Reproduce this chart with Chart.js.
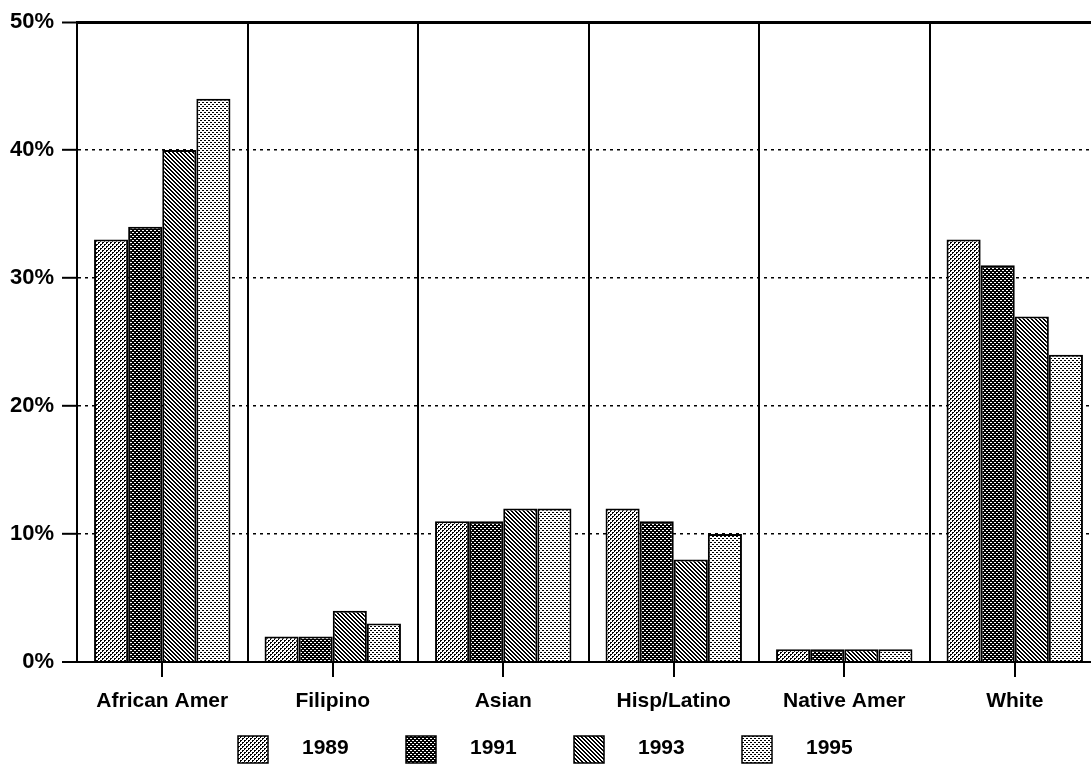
<!DOCTYPE html>
<html>
<head>
<meta charset="utf-8">
<script src="https://cdn.jsdelivr.net/npm/chart.js@4/dist/chart.umd.min.js"></script>
<style>
  html, body { margin: 0; padding: 0; background: #fff; overflow: hidden; }
  #wrap { width: 1100px; height: 767px; }
</style>
</head>
<body>
<div id="wrap"><canvas id="chart" width="1100" height="767"></canvas></div>
<script>
// Share of students by ethnic group, four survey years
const categories = ['African Amer', 'Filipino', 'Asian', 'Hisp/Latino', 'Native Amer', 'White'];
const years = ['1989', '1991', '1993', '1995'];
const values1989 = [33, 2, 11, 12, 1, 33];
const values1991 = [34, 2, 11, 11, 1, 31];
const values1993 = [40, 4, 12, 8, 1, 27];
const values1995 = [44, 3, 12, 10, 1, 24];
const yMin = 0, yMax = 50, yStep = 10;

// Black-and-white screen tiles used as bar fills
function makePattern(rows) {
  const c = document.createElement('canvas');
  c.width = rows[0].length;
  c.height = rows.length;
  const g = c.getContext('2d');
  g.fillStyle = '#fff';
  g.fillRect(0, 0, c.width, c.height);
  g.fillStyle = '#000';
  rows.forEach((r, y) => [...r].forEach((ch, x) => { if (ch === 'X') g.fillRect(x, y, 1, 1); }));
  return g.createPattern(c, 'repeat');
}
const fills = [
  makePattern(['XX..', 'X...', '..XX', '..X.']),   // light stipple
  makePattern(['..XX', 'XXXX', 'XX..', 'XXXX']),   // dark stipple
  makePattern(['XX..', '.XX.', '..XX', 'X..X']),   // diagonal hatch
  makePattern(['XX..', '....', '..XX', '....'])    // sparse stipple
];
const seriesValues = [values1989, values1991, values1993, values1995];

const FONT = "'Liberation Sans', Arial, Helvetica, sans-serif";

// Center tick marks under each category and the legend row
const extras = {
  id: 'extras',
  afterDraw(chart, args, opts) {
    const { ctx, chartArea } = chart;
    const xs = chart.scales.x;
    ctx.save();
    ctx.strokeStyle = '#000';
    ctx.lineWidth = 2;
    categories.forEach((c, i) => {
      const x = Math.round(xs.getPixelForValue(i));
      ctx.beginPath();
      ctx.moveTo(x, chartArea.bottom);
      ctx.lineTo(x, chartArea.bottom + 15);
      ctx.stroke();
    });
    // legend
    ctx.font = 'bold 21px ' + FONT;
    ctx.textBaseline = 'middle';
    ctx.textAlign = 'left';
    chart.data.datasets.forEach((ds, i) => {
      const bx = opts.x0 + i * opts.pitch;
      ctx.fillStyle = ds.backgroundColor;
      ctx.fillRect(bx, opts.top, opts.boxW, opts.boxH);
      ctx.lineWidth = 1.5;
      ctx.strokeStyle = '#000';
      ctx.strokeRect(bx, opts.top, opts.boxW, opts.boxH);
      ctx.fillStyle = '#000';
      ctx.fillText(ds.label, bx + opts.textOffset, opts.top + opts.boxH / 2 - 1);
    });
    ctx.restore();
  }
};

new Chart(document.getElementById('chart'), {
  type: 'bar',
  data: {
    labels: categories,
    datasets: years.map((y, i) => ({
      label: y,
      data: seriesValues[i],
      backgroundColor: fills[i],
      borderColor: '#000',
      borderWidth: 2,
      borderSkipped: 'bottom',
      categoryPercentage: 0.8,
      barPercentage: 1.0
    }))
  },
  options: {
    responsive: false,
    devicePixelRatio: 1,
    animation: false,
    layout: { padding: { top: 22, right: 0, bottom: 0, left: 0 } },
    plugins: {
      legend: { display: false },
      tooltip: { enabled: false },
      extras: { x0: 238, pitch: 168, top: 736, boxW: 30, boxH: 27, textOffset: 64 }
    },
    scales: {
      x: {
        afterFit(scale) { scale.height = 105; },
        grid: {
          offset: true,
          drawTicks: false,
          color: '#000',
          lineWidth: 2
        },
        border: { display: true, color: '#000', width: 2 },
        ticks: {
          padding: 27,
          color: '#000',
          font: { family: FONT, size: 21, weight: 'bold' }
        }
      },
      y: {
        min: yMin,
        max: yMax,
        afterFit(scale) { scale.width = 77; },
        ticks: {
          stepSize: yStep,
          padding: 8,
          color: '#000',
          font: { family: FONT, size: 22, weight: 'bold' },
          callback: (v) => v + '%'
        },
        grid: {
          color: '#000',
          lineWidth: (c) => (c.tick && c.tick.value === yMax) ? 3 : (c.tick && c.tick.value === yMin ? 2 : 1.6),
          tickLength: 15,
          tickColor: '#000',
          tickWidth: 2,
          tickBorderDash: []
        },
        border: {
          display: true,
          color: '#000',
          width: 2,
          dash: (c) => (c.tick && (c.tick.value === yMin || c.tick.value === yMax)) ? [] : [3, 4]
        }
      }
    }
  },
  plugins: [extras]
});
</script>
</body>
</html>
